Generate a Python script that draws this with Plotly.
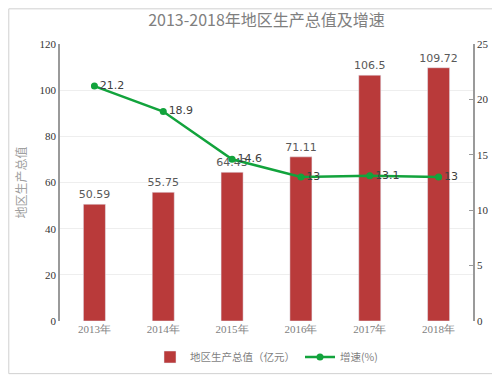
import plotly.graph_objects as go

years = ["2013年", "2014年", "2015年", "2016年", "2017年", "2018年"]
gdp = [50.59, 55.75, 64.43, 71.11, 106.5, 109.72]
growth = [21.2, 18.9, 14.6, 13, 13.1, 13]
gdp_labels = ["50.59", "55.75", "64.43", "71.11", "106.5", "109.72"]
growth_labels = ["21.2", "18.9", "14.6", "13", "13.1", "13"]

fig = go.Figure()
fig.add_trace(go.Bar(
    x=years, y=gdp, name="地区生产总值（亿元）",
    marker=dict(color="#b93a3a"), width=0.32,
    text=gdp_labels, textposition="outside", constraintext="none",
    textfont=dict(size=11, color="#595959", family="DejaVu Sans"),
    cliponaxis=False,
))
fig.add_trace(go.Scatter(
    x=years, y=growth, name="增速(%)", yaxis="y2",
    mode="lines+markers+text",
    line=dict(color="#12a33c", width=2.5),
    marker=dict(color="#12a33c", size=7),
    text=growth_labels, textposition="middle right",
    textfont=dict(size=11, color="#404040", family="DejaVu Sans"),
    cliponaxis=False,
))

fig.update_layout(
    width=492, height=367,
    paper_bgcolor="white", plot_bgcolor="white",
    margin=dict(l=52, r=27, t=36, b=54, autoexpand=False),
    title=dict(text="2013-2018年地区生产总值及增速", x=0.5, xanchor="center", y=0.965, yanchor="middle",
               xref="paper",
               font=dict(size=16, color="#7f7f7f", family="Noto Sans CJK SC")),
    showlegend=True,
    legend=dict(orientation="h", x=0.5, xanchor="center", y=-0.13, yanchor="middle",
                font=dict(size=10.5, color="#7f7f7f", family="Noto Sans CJK SC")),
    xaxis=dict(showline=False, ticks="", tickfont=dict(size=11, color="#7f7f7f", family="Liberation Serif")),
    yaxis=dict(range=[0, 120], dtick=20, showgrid=True, gridcolor="#eeeeee",
               showline=True, linecolor="#9a9a9a", linewidth=1.5, zeroline=False,
               tickfont=dict(size=11, color="#333333", family="Liberation Serif"),
               title=dict(text="地区生产总值", font=dict(size=12, color="#a0a0a0", family="Noto Sans CJK SC"), standoff=10)),
    yaxis2=dict(range=[0, 25], dtick=5, overlaying="y", side="right", showgrid=False,
                showline=True, linecolor="#9a9a9a", linewidth=1.5, zeroline=False,
                ticks="inside", ticklen=4, tickcolor="#9a9a9a",
                tickfont=dict(size=11, color="#333333", family="Liberation Serif")),
)
fig.add_shape(type="rect", xref="paper", yref="paper", x0=-0.124, x1=1.062, y0=-0.19, y1=1.127,
              line=dict(color="#d0d0d0", width=1))
fig.write_html("out.html")
